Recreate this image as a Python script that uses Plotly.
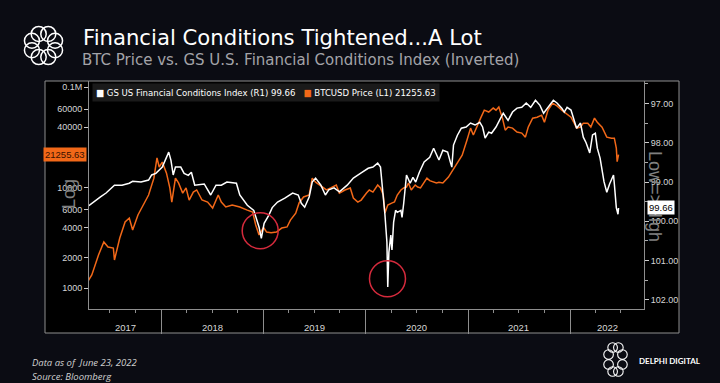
import math
import datetime as dt
import plotly.graph_objects as go

# ---------------- data ----------------
fci_dates = [
    "2017-03-14", "2017-04-19", "2017-05-28", "2017-06-17", "2017-07-17", "2017-08-13", "2017-09-08", "2017-09-20",
    "2017-10-20", "2017-11-16", "2017-11-27", "2017-12-12",
    "2018-01-04", "2018-01-19", "2018-01-27", "2018-02-04", "2018-02-12", "2018-02-20", "2018-03-11", "2018-03-23",
    "2018-04-07", "2018-04-18", "2018-04-30", "2018-06-03", "2018-06-26", "2018-07-15", "2018-08-03", "2018-08-23",
    "2018-09-26", "2018-10-08", "2018-11-04", "2018-11-27", "2018-12-16", "2018-12-24",
    "2019-01-03", "2019-01-20", "2019-02-01", "2019-02-20", "2019-03-18", "2019-04-15", "2019-05-05", "2019-05-16",
    "2019-05-28", "2019-06-13", "2019-06-24", "2019-07-06", "2019-07-25", "2019-08-10", "2019-08-22", "2019-09-10",
    "2019-09-29", "2019-10-27", "2019-11-18", "2019-12-16",
    "2020-01-10", "2020-01-27", "2020-02-13", "2020-02-23", "2020-03-04", "2020-03-10", "2020-03-17", "2020-03-20",
    "2020-03-24", "2020-03-31", "2020-04-04", "2020-04-10", "2020-04-17", "2020-04-23", "2020-05-06", "2020-05-10",
    "2020-05-16", "2020-05-26", "2020-06-08", "2020-06-18", "2020-06-28", "2020-07-11", "2020-07-28", "2020-08-17",
    "2020-08-31", "2020-09-10", "2020-09-19", "2020-10-03", "2020-10-20", "2020-10-30", "2020-11-04", "2020-11-10",
    "2020-11-24", "2020-12-08", "2020-12-25",
    "2021-01-10", "2021-01-26", "2021-02-12", "2021-02-22", "2021-03-03", "2021-03-16", "2021-03-26", "2021-04-11",
    "2021-04-27", "2021-05-07", "2021-05-24", "2021-06-09", "2021-06-25", "2021-07-12", "2021-07-28", "2021-08-13",
    "2021-08-30", "2021-09-15", "2021-09-28", "2021-10-14", "2021-11-02", "2021-11-15", "2021-12-02", "2021-12-11",
    "2021-12-21",
    "2022-01-04", "2022-01-14", "2022-01-24", "2022-02-07", "2022-02-17", "2022-02-27", "2022-03-12", "2022-03-22",
    "2022-04-01", "2022-04-08", "2022-04-18", "2022-05-02", "2022-05-12", "2022-05-22", "2022-06-05", "2022-06-08",
    "2022-06-15", "2022-06-21", "2022-06-23",
]
fci_values = [
    99.72, 99.59, 99.38, 99.28, 99.08, 99.08, 99.03, 98.98, 99.00, 98.95, 98.82, 98.78,
    98.62, 98.37, 98.24, 98.45, 98.82, 98.62, 98.62, 98.78, 98.83, 98.75, 99.08, 99.05, 99.33, 99.08, 99.08, 99.00,
    99.03, 99.33, 99.59, 99.72, 100.15, 100.43,
    100.05, 99.84, 99.65, 99.51, 99.41, 99.28, 99.33, 99.54, 99.64, 99.38, 99.00, 98.90, 99.08, 99.33, 99.20, 99.15,
    99.25, 99.08, 98.90, 98.77,
    98.65, 98.62, 98.52, 98.62, 99.33, 99.84, 100.53, 101.67, 100.79, 100.35, 100.73, 100.02, 99.72, 99.77, 99.72,
    99.90, 99.54, 98.82, 99.03, 98.88, 99.00, 98.75, 98.49, 98.37, 98.14, 98.30, 98.44, 98.19, 98.24, 98.50, 98.62,
    98.06, 97.81, 97.63, 97.60,
    97.50, 97.55, 97.48, 97.60, 97.88, 97.73, 97.76, 97.60, 97.38, 97.25, 97.43, 97.22, 97.12, 97.10, 96.99, 97.10,
    96.92, 97.05, 97.25, 97.10, 96.92, 96.99, 97.12, 97.22, 97.10,
    97.17, 97.38, 97.63, 97.50, 97.86, 98.00, 98.26, 97.80, 97.76, 98.14, 98.39, 98.99, 99.26, 99.05, 98.82, 99.05,
    99.65, 99.82, 99.66,
]

btc_dates = [
    "2017-03-14", "2017-03-25", "2017-04-12", "2017-04-27", "2017-05-21", "2017-06-09", "2017-06-24", "2017-07-13",
    "2017-07-17", "2017-08-05", "2017-08-24", "2017-09-08", "2017-09-20", "2017-10-09", "2017-10-28", "2017-11-16",
    "2017-12-05", "2017-12-16", "2017-12-24",
    "2018-01-04", "2018-01-19", "2018-01-31", "2018-02-07", "2018-02-20", "2018-03-03", "2018-03-18", "2018-03-30",
    "2018-04-10", "2018-04-25", "2018-05-07", "2018-05-26", "2018-06-15", "2018-07-03", "2018-07-23", "2018-08-03",
    "2018-08-19", "2018-09-11", "2018-10-08", "2018-11-04", "2018-11-23", "2018-12-04", "2018-12-16",
    "2019-01-01", "2019-01-12", "2019-01-28", "2019-02-16", "2019-03-07", "2019-03-26", "2019-04-07", "2019-04-26",
    "2019-05-08", "2019-05-24", "2019-06-13", "2019-06-24", "2019-07-06", "2019-07-21", "2019-08-02", "2019-08-14",
    "2019-08-29", "2019-09-18", "2019-09-29", "2019-10-19", "2019-11-07", "2019-11-18", "2019-12-04", "2019-12-16",
    "2020-01-04", "2020-01-14", "2020-01-27", "2020-02-13", "2020-02-23", "2020-03-04", "2020-03-10", "2020-03-20",
    "2020-04-03", "2020-04-13", "2020-04-23", "2020-05-06", "2020-05-16", "2020-05-26", "2020-06-02", "2020-06-12",
    "2020-06-26", "2020-07-05", "2020-07-15", "2020-07-28", "2020-08-07", "2020-08-17", "2020-08-31", "2020-09-10",
    "2020-09-19", "2020-10-03", "2020-10-23", "2020-11-08", "2020-11-24", "2020-12-11", "2020-12-28",
    "2021-01-10", "2021-01-20", "2021-01-30", "2021-02-15", "2021-02-28", "2021-03-16", "2021-04-01", "2021-04-11",
    "2021-04-21", "2021-05-04", "2021-05-14", "2021-05-24", "2021-06-09", "2021-06-25", "2021-07-12", "2021-07-25",
    "2021-08-04", "2021-08-20", "2021-09-05", "2021-09-21", "2021-10-01", "2021-10-14", "2021-10-30", "2021-11-15",
    "2021-12-02", "2021-12-18",
    "2022-01-04", "2022-01-14", "2022-01-24", "2022-02-07", "2022-02-17", "2022-03-05", "2022-03-16", "2022-03-29",
    "2022-04-08", "2022-04-25", "2022-05-12", "2022-05-29", "2022-06-08", "2022-06-15", "2022-06-18", "2022-06-23",
]
btc_values = [
    1257, 1000, 1150, 1350, 2130, 2870, 2560, 2500, 1900, 3140, 4540, 4970, 3780, 5330, 6700, 8420, 12400, 19700, 16000,
    17900, 13900, 9900, 7170, 12400, 11100, 8800, 9900, 7500, 9000, 9450, 7510, 7170, 6250, 8420, 7170, 6400, 6700,
    6400, 5960, 5700, 4240, 3370,
    4000, 3600, 3550, 3600, 3950, 4050, 4740, 5560, 7020, 8060, 8420, 12400, 11300, 10600, 10100, 9450, 9900, 10600,
    8800, 9450, 9900, 7860, 7170, 7500,
    8800, 9450, 9000, 10600, 9900, 8420, 5560, 6700, 7000, 7170, 8420, 9450, 9900, 10100, 11100, 9450, 10600, 10100,
    9900, 11300, 12400, 11700, 11300, 11100, 11300, 11100, 12700, 14900, 17900, 21000, 29600,
    39000, 33300, 39000, 49000, 58900, 56400, 61800, 58900, 63200, 49000, 37200, 40000, 39000, 35600, 34800, 31700,
    39800, 49000, 50100, 52500, 44600, 58900, 69000, 65000, 58900, 54900,
    50100, 44600, 39000, 40000, 43700, 43700, 40000, 49000, 44600, 39800, 31700, 31000, 31000, 24700, 18070, 21255.63,
]

fci_name = "GS US Financial Conditions Index (R1)"
btc_name = "BTCUSD Price (L1)"

btc_tick_vals = [1000, 2000, 4000, 6000, 10000, 40000, 60000, 100000]
btc_tick_text = ["1000", "2000", "4000", "6000", "10000", "40000", "60000", "0.1M"]
fci_tick_vals = [97, 98, 99, 100, 101, 102]
fci_tick_text = ["97.00", "98.00", "99.00", "100.00", "101.00", "102.00"]
year_labels = ["2017", "2018", "2019", "2020", "2021", "2022"]

# highlighted lows (date, FCI level)
highlight_dates = ["2018-12-20", "2020-03-19"]
highlight_fci = [100.24, 101.46]

title = "Financial Conditions Tightened...A Lot"
subtitle = "BTC Price vs. GS U.S. Financial Conditions Index (Inverted)"
footer1 = "Data as of  June 23, 2022"
footer2 = "Source: Bloomberg"

x_range = ["2017-04-17", "2022-09-22"]

# ---------------- styling ----------------
W, H = 720, 383
ML, MR, MT, MB = 89, 76, 81, 74
PW, PH = W - ML - MR, H - MT - MB
BG = "#0b0c13"
WHITE = "#ffffff"
ORANGE = "#f26818"
GRID = "#8e8e8e"
LABEL = "#d6d6d6"
TICKFONT = "Liberation Sans, Arial, sans-serif"
NARROW = "Liberation Sans Narrow, Arial Narrow, DejaVu Sans Condensed, sans-serif"


def px2x(px):
    return (px - ML) / PW


def py2y(py):
    return (H - MB - py) / PH


fig = go.Figure()
fig.add_trace(go.Scatter(x=fci_dates, y=fci_values, name=fci_name, yaxis="y2",
                         mode="lines", line=dict(color=WHITE, width=1.5), showlegend=False))
fig.add_trace(go.Scatter(x=btc_dates, y=btc_values, name=btc_name, yaxis="y",
                         mode="lines", line=dict(color=ORANGE, width=1.5), showlegend=False))

shapes = []
# outer chart box
shapes.append(dict(type="rect", xref="paper", yref="paper", x0=px2x(45), x1=px2x(679), y0=py2y(333), y1=py2y(81),
                   fillcolor="#000000", line=dict(color=GRID, width=1), layer="below"))
# red highlight circles
for d, v in zip(highlight_dates, highlight_fci):
    shapes.append(dict(type="circle", xref="x", yref="y2", xsizemode="pixel", ysizemode="pixel",
                       xanchor=d, yanchor=v, x0=-18, x1=18, y0=-18, y1=18,
                       line=dict(color="#d42a3c", width=1.5)))


def ring_logo(cx, cy, rx, ry, r, width):
    out = []
    for k in range(8):
        a = 2 * math.pi * k / 8 + math.pi / 8
        x = cx + rx * math.cos(a)
        y = cy + ry * math.sin(a)
        out.append(dict(type="circle", xref="paper", yref="paper",
                        x0=px2x(x - r), x1=px2x(x + r), y0=py2y(y + r), y1=py2y(y - r),
                        line=dict(color=WHITE, width=width)))
    return out


shapes += ring_logo(43.5, 45.5, 12.5, 12.5, 7.5, 1.5)
shapes += ring_logo(615.5, 359.5, 7.5, 13.0, 4.8, 1.1)

annotations = []
annotations.append(dict(text=title, xref="paper", yref="paper", x=px2x(81), y=py2y(37), xanchor="left",
                        yanchor="middle", showarrow=False, font=dict(family="DejaVu Sans", size=21.2, color=WHITE)))
annotations.append(dict(text=subtitle, xref="paper", yref="paper", x=px2x(80), y=py2y(60), xanchor="left",
                        yanchor="middle", showarrow=False, font=dict(family="DejaVu Sans", size=15, color="#a3a3a8")))
annotations.append(dict(text="<i>" + footer1 + "</i>", xref="paper", yref="paper", x=px2x(30), y=py2y(362),
                        xanchor="left", yanchor="middle", showarrow=False,
                        font=dict(family="Open Sans", size=9.5, color="#d0d0d0")))
annotations.append(dict(text="<i>" + footer2 + "</i>", xref="paper", yref="paper", x=px2x(30), y=py2y(376),
                        xanchor="left", yanchor="middle", showarrow=False,
                        font=dict(family="Open Sans", size=9.5, color="#d0d0d0")))
annotations.append(dict(text="<b>DELPHI DIGITAL</b>", xref="paper", yref="paper", x=px2x(637), y=py2y(361),
                        xanchor="left", yanchor="middle", showarrow=False,
                        font=dict(family="Lato", size=8, color=WHITE)))
# legend box
legend_text = (f"<span style='color:{WHITE}'>■</span> {fci_name} {fci_values[-1]:.2f}   "
               f"<span style='color:{ORANGE}'>■</span> {btc_name} {btc_values[-1]:.2f}")
annotations.append(dict(text=legend_text, xref="paper", yref="paper", x=px2x(92), y=py2y(83), xanchor="left",
                        yanchor="top", showarrow=False, bgcolor="#1a1a1a", borderpad=3,
                        font=dict(family=NARROW, size=9.5, color=WHITE)))
# axis side labels
annotations.append(dict(text="Log", xref="paper", yref="paper", x=px2x(57), y=py2y(194), textangle=-90,
                        showarrow=False, font=dict(family="Liberation Sans, Arial", size=18, color="#808080")))
annotations.append(dict(text="Low=>High", xref="paper", yref="paper", x=px2x(667), y=py2y(196), textangle=90,
                        showarrow=False, font=dict(family="Liberation Sans, Arial", size=18, color="#808080")))
# last value tags
annotations.append(dict(text=f"{btc_values[-1]:.2f}", xref="paper", yref="y", x=0, y=math.log10(btc_values[-1]),
                        xanchor="right", yanchor="middle", xshift=-2, showarrow=False, bgcolor=ORANGE, borderpad=1,
                        font=dict(family=TICKFONT, size=9.5, color="#3a1200")))
annotations.append(dict(text=f"{fci_values[-1]:.2f}", xref="paper", yref="y2", x=1, y=fci_values[-1],
                        xanchor="left", yanchor="middle", xshift=3, showarrow=False, bgcolor=WHITE, borderpad=1,
                        font=dict(family=TICKFONT, size=9.5, color="#000000")))

# year labels centred on the visible part of each year
r0 = dt.date.fromisoformat(x_range[0])
r1 = dt.date.fromisoformat(x_range[1])
for lab in year_labels:
    y = int(lab)
    a = max(dt.date(y, 1, 1), r0)
    b = min(dt.date(y + 1, 1, 1), r1)
    mid = a + (b - a) / 2
    annotations.append(dict(text=lab, xref="x", yref="paper", x=mid.isoformat(), y=py2y(327), yanchor="middle",
                            showarrow=False, font=dict(family=TICKFONT, size=9.5, color=LABEL)))

fig.update_layout(
    width=W, height=H,
    margin=dict(l=ML, r=MR, t=MT, b=MB, pad=0),
    paper_bgcolor=BG, plot_bgcolor="#000000",
    showlegend=False,
    shapes=shapes, annotations=annotations,
    xaxis=dict(type="date", range=x_range, showgrid=False, zeroline=False,
               showline=True, linecolor=GRID, linewidth=1,
               ticks="outside", ticklen=24, tickwidth=1, tickcolor=GRID,
               dtick="M12", tick0="2017-01-01", showticklabels=False,
               minor=dict(ticks="outside", ticklen=3, dtick="M3", tick0="2017-01-01", tickcolor=GRID)),
    yaxis=dict(type="log", range=[2.791, 5.06], side="left", showgrid=False, zeroline=False,
               showline=True, linecolor=GRID, linewidth=1,
               tickvals=btc_tick_vals, ticktext=btc_tick_text,
               ticks="outside", ticklen=4, tickcolor="#cccccc",
               tickfont=dict(family=TICKFONT, size=9, color=LABEL)),
    yaxis2=dict(overlaying="y", side="right", range=[102.23, 96.43], showgrid=False, zeroline=False,
                showline=True, linecolor=GRID, linewidth=1,
                tickvals=fci_tick_vals, ticktext=fci_tick_text,
                ticks="outside", ticklen=4, tickcolor="#cccccc",
                minor=dict(ticks="outside", ticklen=3, dtick=0.5, tick0=96.5, tickcolor="#aaaaaa"),
                tickfont=dict(family=TICKFONT, size=9, color=LABEL)),
)

fig.write_html("out.html", config={"displayModeBar": False},
               post_script="document.body.style.margin='0';document.body.style.background='" + BG + "';")
